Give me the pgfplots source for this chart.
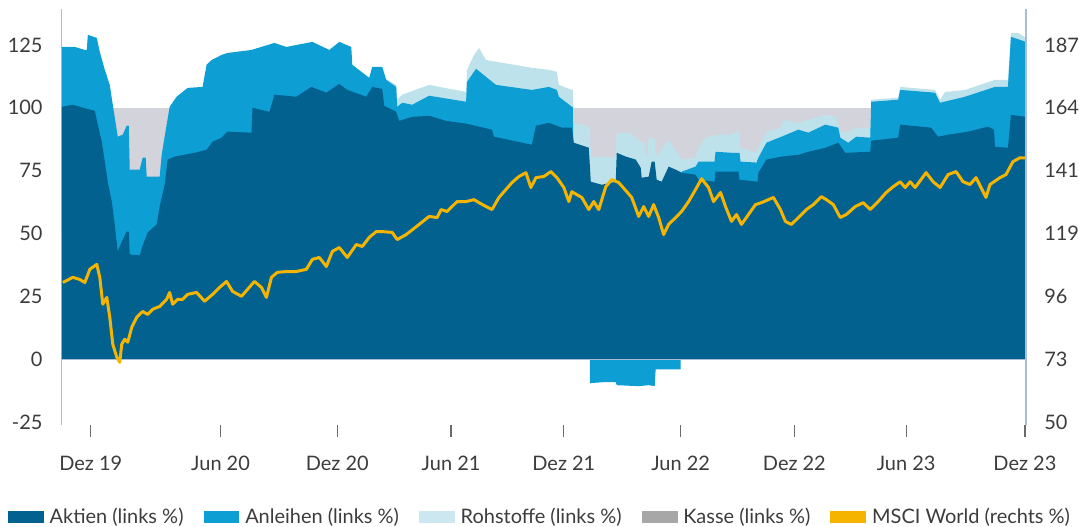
\documentclass[border=0pt]{standalone}
\usepackage{fontspec}
\setmainfont{Lato}
\usepackage{pgfplots}
\pgfplotsset{compat=1.18}
\definecolor{aktien}{HTML}{02618F}
\definecolor{anleihen}{HTML}{0D9ED3}
\definecolor{rohstoffe}{HTML}{BEE2EC}
\definecolor{rohleg}{HTML}{CCE7EF}
\definecolor{kasse}{HTML}{D3D4DB}
\definecolor{kasseleg}{HTML}{A7A7A7}
\definecolor{msci}{HTML}{F5B400}
\definecolor{axisc}{HTML}{A9BDD6}
\definecolor{tickc}{HTML}{6A6A6A}
\definecolor{txt}{HTML}{3C3C3C}
\begin{document}
\begin{tikzpicture}[font=\fontsize{10}{12}\selectfont, text=txt]
\begin{axis}[
  name=main,
  scale only axis, width=483pt, height=208.5pt,
  xmin=62, xmax=1028, ymin=-26.19, ymax=139.29,
  separate axis lines,
  axis x line*=bottom, axis y line*=left,
  x axis line style={draw=none},
  y axis line style={-, draw=axisc, line width=0.6pt},
  tick align=outside, major tick length=6pt,
  xtick={91,221,338,452,565,682,796,908,1027},
  xticklabels={Dez 19,Jun 20,Dez 20,Jun 21,Dez 21,Jun 22,Dez 22,Jun 23,Dez 23},
  x tick style={draw=tickc, line width=0.6pt},
  xticklabel style={inner sep=0pt, anchor=north, yshift=-9.5pt},
  ytick={-25,0,25,50,75,100,125},
  yticklabels={-25,0,25,50,75,100,125},
  y tick style={draw=none},
  yticklabel style={inner sep=0pt, anchor=east, xshift=-3.5pt},
  legend columns=5,
  legend cell align=left,
  legend style={at={(rel axis cs:0,0)}, anchor=north west, xshift=-27pt, yshift=-41.5pt,
    draw=none, fill=none, inner sep=0pt, outer sep=0pt,
    nodes={inner ysep=0pt, inner xsep=3pt, text=txt},
    /tikz/every even column/.append style={column sep=7pt}},
]
% Kasse background up to 100
\addplot[fill=kasse, draw=none, forget plot] coordinates {(62,0) (62,100) (1028,100) (1028,0)};
% Rohstoffe (cumulative top)
\addplot[fill=rohstoffe, draw=none, forget plot] coordinates {
(62,0) (62,50) (383,50) (385,111.9) (397,109.1) (398,103.2) (403,105.2) (430,109.1)
(467,106.3) (468,115.1) (475,121.0) (480,123.8) (487,119.0) (497,118.3) (533,115.9)
(550,115.1) (558,114.3) (560,109.1) (573,107.1) (574,107.1) (575,94.0) (590,92.5)
(591,92.5) (592,80.6) (617,80.2) (618,90.1) (630,90.1) (643,86.1) (646,86.1)
(647,80.6) (649,80.6) (650,88.5) (656,87.3) (657,80.6) (663,83.3) (670,87.3)
(677,83.3) (683,79.4) (697,80.2) (700,84.1) (707,88.1) (720,89.3) (733,89.3)
(737,90.5) (741,90.5) (742,84.1) (758,82.1) (760,84.5) (768,90.5) (782,92.1)
(785,95.2) (800,94.0) (827,97.2) (838,96.4) (842,90.5) (850,90.1) (858,92.1)
(872,92.1) (873,103.2) (900,104.0) (902,108.3) (937,107.1) (942,103.2) (947,106.3)
(967,107.1) (997,111.1) (1010,111.1) (1013,129.8) (1020,129.8) (1028,127.8) (1028,0)};
% Anleihen (cumulative top)
\addplot[fill=anleihen, draw=none, forget plot] coordinates {
(62,0) (62,124.2) (75,124.2) (85,123.0) (87,123.0) (88,129.0) (97,127.8) (100,122.2)
(105,115.1) (110,109.1) (113,101.2) (118,88.5) (123,89.3) (127,92.9) (129,92.9)
(130,75.4) (140,75.4) (143,80.2) (146,80.2) (147,72.6) (160,72.6) (162,81.3)
(167,93.3) (170,100.4) (177,104.4) (188,107.9) (203,108.3) (207,117.1) (212,119.0)
(222,121.0) (228,121.8) (252,123.0) (275,125.8) (287,124.2) (313,126.2) (330,123.0)
(340,126.2) (352,124.2) (353,117.1) (370,111.9) (373,116.3) (383,116.3) (387,111.1)
(397,108.3) (398,100.4) (403,102.0) (413,101.2) (430,104.8) (467,102.4) (468,110.3)
(477,115.5) (487,112.3) (497,109.1) (533,107.1) (550,108.3) (558,107.1) (560,104.4)
(573,100.4) (574,100.4) (575,60) (682,60) (683,74.6) (697,76.6) (700,78.6)
(716,78.6) (717,82.5) (733,82.1) (741,82.1) (742,78.6) (758,78.2) (760,80.2)
(768,86.1) (783,88.5) (800,91.3) (810,90.1) (827,93.3) (840,92.1) (842,88.1)
(850,86.1) (858,88.5) (872,88.1) (873,102.4) (900,103.2) (902,107.1) (937,106.0)
(942,102.0) (967,104.4) (997,108.3) (1010,108.3) (1013,128.2) (1028,126.2) (1028,0)};
% Aktien
\addplot[fill=aktien, draw=none, forget plot] coordinates {
(62,0) (62,100.4) (73,101.2) (87,99.6) (95,98.8) (98,93.3) (102,86.5) (105,78.6)
(108,70.6) (112,62.7) (115,53.6) (118,42.9) (122,46.8) (127,50.8) (129,50.8)
(130,41.7) (140,41.3) (143,45.2) (148,50.4) (157,53.6) (160,60.7) (165,69.4)
(168,79.4) (175,80.6) (195,82.1) (207,83.3) (213,86.5) (222,88.1) (228,90.5)
(252,90.1) (253,100.0) (270,98.4) (275,105.2) (297,104.4) (312,108.3) (327,106.0)
(340,109.5) (348,107.1) (367,104.4) (373,108.3) (383,107.5) (385,100.8) (397,98.4)
(400,94.8) (413,96.4) (430,96.8) (447,94.8) (467,93.7) (493,91.3) (495,88.5)
(533,85.3) (537,92.9) (550,94.0) (563,92.1) (573,92.1) (575,86.1) (590,84.1)
(592,70.6) (603,69.4) (617,70.6) (618,82.1) (627,80.6) (637,79.4) (642,76.2)
(643,72.2) (650,72.6) (653,78.6) (656,78.6) (658,71.4) (663,70.6) (670,76.6)
(677,75.4) (683,74.2) (697,73.4) (700,71.4) (716,70.6) (717,74.6) (740,74.6)
(741,71.4) (759,70.6) (760,74.2) (768,79.4) (783,80.6) (800,81.3) (810,82.5)
(827,84.1) (840,86.1) (847,82.1) (872,82.5) (873,86.9) (900,88.1) (902,93.3)
(933,92.1) (940,88.5) (950,89.3) (970,90.5) (990,92.5) (996,91.3) (997,84.5)
(1010,84.1) (1013,97.2) (1028,96.4) (1028,0)};
% Anleihen negative
\addplot[fill=anleihen, draw=none, forget plot] coordinates {
(591,0) (591,-9.5) (605,-9.1) (617,-9.1) (618,-10.3) (640,-10.7) (650,-10.3)
(656,-10.7) (657,-4.0) (682,-4.0) (682,0)};
% zero line
\addplot[axisc, line width=0.6pt, forget plot] coordinates {(62,0) (1028,0)};
% legend
\addlegendimage{legend image code/.code={\fill[aktien] (0pt,-2.75pt) rectangle (17.5pt,2.75pt);}}
\addlegendentry{Aktien (links \%)}
\addlegendimage{legend image code/.code={\fill[anleihen] (0pt,-2.75pt) rectangle (17.5pt,2.75pt);}}
\addlegendentry{Anleihen (links \%)}
\addlegendimage{legend image code/.code={\fill[rohleg] (0pt,-2.75pt) rectangle (17.5pt,2.75pt);}}
\addlegendentry{Rohstoffe (links \%)}
\addlegendimage{legend image code/.code={\fill[kasseleg] (0pt,-2.75pt) rectangle (17.5pt,2.75pt);}}
\addlegendentry{Kasse (links \%)}
\addlegendimage{legend image code/.code={\fill[msci] (0pt,-2.75pt) rectangle (17.5pt,2.75pt);}}
\addlegendentry{MSCI World (rechts \%)}
\coordinate (A) at (rel axis cs:0,0);
\end{axis}
\begin{axis}[
  scale only axis, width=483pt, height=208.5pt,
  xmin=62, xmax=1028, ymin=48.91, ymax=200.05,
  separate axis lines,
  axis x line=none, axis y line*=right,
  y axis line style={-, draw=axisc, line width=0.6pt},
  tick align=outside, major tick length=6pt,
  ytick={50,72.83,95.67,118.5,141.33,164.17,187},
  yticklabels={50,73,96,119,141,164,187},
  y tick style={draw=none},
  yticklabel style={inner sep=0pt, anchor=west, xshift=3pt},
]
\addplot[msci, line width=1.5pt, line join=round] coordinates {
(63,100.7) (73,102.6) (80,101.8) (85,100.7) (90,105.5) (97,107.3) (100,102.6)
(103,92.8) (107,95.3) (110,88.1) (113,78.3) (117,73.6) (120,71.7) (122,78.3)
(125,80.1) (128,79.0) (132,84.4) (137,88.1) (143,90.2) (148,89.1) (153,91.0)
(160,92.0) (167,94.6) (170,97.1) (173,92.8) (178,94.6) (183,94.6) (188,96.4)
(197,97.1) (205,93.9) (213,96.4) (220,98.9) (227,101.1) (233,97.5) (242,95.7)
(248,98.2) (255,101.1) (262,98.9) (267,95.3) (272,102.6) (278,104.4) (287,104.7)
(297,104.7) (307,105.5) (313,109.1) (320,109.8) (327,106.5) (333,112.0) (340,113.4)
(348,109.8) (357,114.5) (363,113.8) (370,117.1) (377,119.2) (383,119.2) (393,118.9)
(398,116.3) (407,118.1) (420,121.8) (430,124.7) (438,124.3) (442,127.2) (448,126.5)
(458,130.1) (467,130.1) (475,130.8) (480,129.7) (487,128.3) (493,127.2) (500,131.6)
(507,134.5) (513,137.0) (520,139.2) (527,140.6) (532,135.2) (537,138.8) (545,139.2)
(552,141.0) (558,138.8) (565,135.2) (570,130.1) (573,133.7) (578,132.6) (583,131.6)
(590,127.2) (595,130.1) (600,127.2) (607,135.5) (613,138.1) (620,137.0) (628,133.7)
(633,131.6) (640,124.7) (645,128.3) (650,124.7) (655,129.0) (660,124.3) (665,118.1)
(670,121.8) (677,124.3) (683,126.5) (690,130.1) (697,134.5) (703,138.4) (710,135.2)
(715,130.1) (722,133.4) (727,128.3) (733,122.9) (738,125.4) (743,121.8) (750,125.4)
(757,129.0) (763,129.7) (770,130.8) (775,131.6) (782,127.2) (787,122.9) (793,121.8)
(800,124.3) (808,127.2) (815,129.0) (823,131.9) (828,130.8) (835,129.0) (842,124.3)
(848,125.4) (857,128.3) (865,129.7) (872,127.2) (880,130.1) (888,133.4) (895,135.5)
(902,137.3) (907,135.2) (912,137.3) (917,135.2) (928,140.6) (935,137.3) (942,135.2)
(950,139.9) (958,141.0) (965,137.3) (972,136.3) (978,138.8) (983,135.2) (988,131.6)
(992,136.3) (1002,138.8) (1008,139.9) (1015,144.6) (1022,146.0) (1027,146.0)};
\end{axis}
\path (A) ++(-31pt,-51pt) rectangle ++(539.5pt,264pt);
\end{tikzpicture}
\end{document}
